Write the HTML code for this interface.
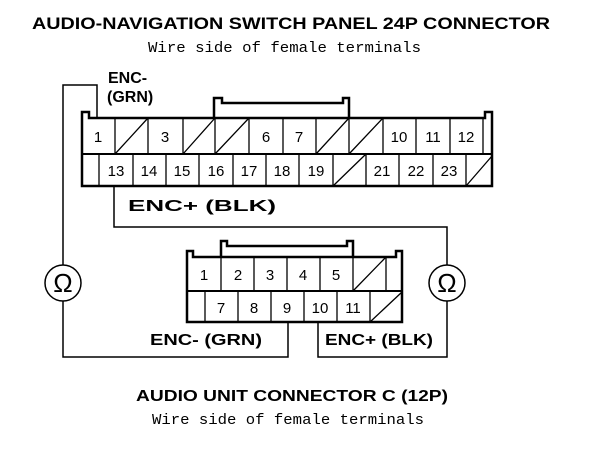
<!DOCTYPE html>
<html><head><style>html,body{margin:0;padding:0;background:#fff}svg{display:block}</style></head><body>
<svg width="608" height="452" viewBox="0 0 608 452" xmlns="http://www.w3.org/2000/svg" font-family="Liberation Sans, sans-serif">
<g font-weight="bold" fill="#000">
<text x="291" y="29" font-size="17" text-anchor="middle" textLength="518" lengthAdjust="spacingAndGlyphs">AUDIO-NAVIGATION SWITCH PANEL 24P CONNECTOR</text>
<text x="108" y="83" font-size="16">ENC-</text>
<text x="107" y="102" font-size="16">(GRN)</text>
<text x="128" y="211" font-size="16" textLength="148" lengthAdjust="spacingAndGlyphs">ENC+ (BLK)</text>
<text x="150" y="345" font-size="16" textLength="112" lengthAdjust="spacingAndGlyphs">ENC- (GRN)</text>
<text x="325" y="345" font-size="16" textLength="108" lengthAdjust="spacingAndGlyphs">ENC+ (BLK)</text>
<text x="292" y="401" font-size="16" text-anchor="middle" textLength="312" lengthAdjust="spacingAndGlyphs">AUDIO UNIT CONNECTOR C (12P)</text>
</g>
<g font-family="Liberation Mono, monospace" font-size="15" fill="#000">
<text x="148" y="52" textLength="273" lengthAdjust="spacingAndGlyphs">Wire side of female terminals</text>
<text x="152" y="424" textLength="272" lengthAdjust="spacingAndGlyphs">Wire side of female terminals</text>
</g>
<g stroke="#000" fill="none">
<path d="M82 112 H89 V118 H485 V112 H492 V186 H82 Z" stroke-width="2.5"/>
<path d="M214 118 V98 H222 V103 H343 V98 H349 V118" stroke-width="2.5"/>
<line x1="82" y1="154" x2="492" y2="154" stroke-width="2"/>
<g stroke-width="1.3">
<path d="M115 118V154M148 118V154M183 118V154M215 118V154M249 118V154M283 118V154M316 118V154M349 118V154M383 118V154M416 118V154M450 118V154M483 118V154"/>
<path d="M115 154L148 118M183 154L215 118M215 154L249 118M316 154L349 118M349 154L383 118"/>
<path d="M99 154V186M133 154V186M166 154V186M199 154V186M233 154V186M266 154V186M299 154V186M333 154V186M366 154V186M399 154V186M433 154V186M466 154V186"/>
<path d="M333 186L366 154M466 186L492 156"/>
</g>
<path d="M187 251 H193 V257 H396 V251 H402 V322 H187 Z" stroke-width="2.5"/>
<path d="M221 257 V241 H227 V246 H347 V241 H353 V257" stroke-width="2.5"/>
<line x1="187" y1="291" x2="402" y2="291" stroke-width="2"/>
<g stroke-width="1.3">
<path d="M221 257V291M254 257V291M287 257V291M320 257V291M353 257V291M386 257V291"/>
<path d="M353 291L386 257"/>
<path d="M205 291V322M238 291V322M271 291V322M304 291V322M337 291V322M370 291V322"/>
<path d="M370 322L402 292"/>
</g>
<g stroke-width="1.5">
<path d="M97 118V85H63V265"/>
<path d="M63 301V357H288V322"/>
<path d="M114 186V227H447V265"/>
<path d="M447 301V357H318V322"/>
</g>
<circle cx="63" cy="283" r="18" stroke-width="1.5"/>
<circle cx="447" cy="283" r="18" stroke-width="1.5"/>
</g>
<g font-size="26" text-anchor="middle" fill="#000">
<text x="63" y="292">Ω</text><text x="447" y="292">Ω</text>
</g>
<g font-size="15" text-anchor="middle" fill="#000">
<text x="98" y="142">1</text><text x="165" y="142">3</text><text x="266" y="142">6</text><text x="299" y="142">7</text>
<text x="399" y="142">10</text><text x="433" y="142">11</text><text x="466" y="142">12</text>
<text x="116" y="176">13</text><text x="149" y="176">14</text><text x="182" y="176">15</text><text x="216" y="176">16</text>
<text x="249" y="176">17</text><text x="282" y="176">18</text><text x="316" y="176">19</text>
<text x="382" y="176">21</text><text x="416" y="176">22</text><text x="449" y="176">23</text>
<text x="204" y="280">1</text><text x="238" y="280">2</text><text x="270" y="280">3</text><text x="303" y="280">4</text><text x="336" y="280">5</text>
<text x="221" y="313">7</text><text x="254" y="313">8</text><text x="287" y="313">9</text><text x="320" y="313">10</text><text x="353" y="313">11</text>
</g>
</svg>
</body></html>
